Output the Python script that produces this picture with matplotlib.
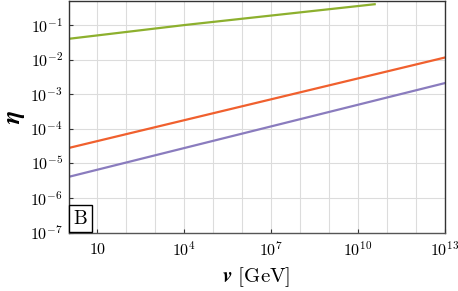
import numpy as np
import matplotlib
matplotlib.use('Agg')
import matplotlib.pyplot as plt
from matplotlib.ticker import FixedLocator, NullFormatter

plt.rcParams['mathtext.fontset'] = 'cm'
plt.rcParams['font.family'] = 'DejaVu Serif'

# data (v in GeV, eta dimensionless)
v_green = [1.0, 1e4, 3.8e10]
eta_green = [0.040, 0.100, 0.40]
v_orange = [1.0, 1e13]
eta_orange = [2.8e-5, 1.15e-2]
v_purple = [1.0, 1e13]
eta_purple = [4.1e-6, 2.1e-3]

x_ticks = [1e1, 1e4, 1e7, 1e10, 1e13]
x_ticklabels = [r'$10$', r'$10^{4}$', r'$10^{7}$', r'$10^{10}$', r'$10^{13}$']
y_ticks = [1e-7, 1e-6, 1e-5, 1e-4, 1e-3, 1e-2, 1e-1]
y_ticklabels = [r'$10^{%d}$' % k for k in range(-7, 0)]

fig = plt.figure(figsize=(4.58, 2.91), dpi=100)
ax = fig.add_axes([0.1496, 0.2003, 0.8214, 0.7967])

ax.plot(v_green, eta_green, color='#8db02e', lw=1.6)
ax.plot(v_orange, eta_orange, color='#f0602e', lw=1.6)
ax.plot(v_purple, eta_purple, color='#8a7cbe', lw=1.6)

ax.set_xscale('log')
ax.set_yscale('log')
ax.set_xlim(1.0, 1e13)
ax.set_ylim(1e-7, 0.5)

ax.xaxis.set_major_locator(FixedLocator(x_ticks))
ax.set_xticklabels(x_ticklabels)
ax.xaxis.set_minor_locator(FixedLocator([10.0 ** k for k in range(0, 14)]))
ax.xaxis.set_minor_formatter(NullFormatter())
ax.yaxis.set_major_locator(FixedLocator(y_ticks))
ax.set_yticklabels(y_ticklabels)
ax.yaxis.set_minor_locator(FixedLocator([]))

ax.grid(True, which='both', axis='x', color='#dcdcdc', lw=0.8)
ax.grid(True, which='major', axis='y', color='#dcdcdc', lw=0.8)
ax.set_axisbelow(True)

ax.tick_params(which='major', direction='in', length=3, width=0.8, labelsize=11.5,
               colors='#333333', labelcolor='black', pad=4)
ax.tick_params(which='minor', length=0)
ax.tick_params(axis='x', pad=6)
for s in ax.spines.values():
    s.set_color('#333333')
    s.set_linewidth(1.0)
ax.spines['bottom'].set_color('#555555')

ax.set_xlabel(r'$\boldsymbol{v}$ $\mathrm{[GeV]}$', fontsize=15, labelpad=4)
ax.set_ylabel(r'$\boldsymbol{\eta}$', fontsize=18, labelpad=2)

# panel tag sitting in the lower-left corner
ax.annotate(r'$\mathrm{B}$', xy=(0, 0), xycoords='axes fraction',
            xytext=(3.2, 3.6), textcoords='offset points', fontsize=14,
            ha='left', va='bottom',
            bbox=dict(boxstyle='square,pad=0.22', fc='white', ec='black', lw=1.0))

fig.savefig('out.png', dpi=100)
